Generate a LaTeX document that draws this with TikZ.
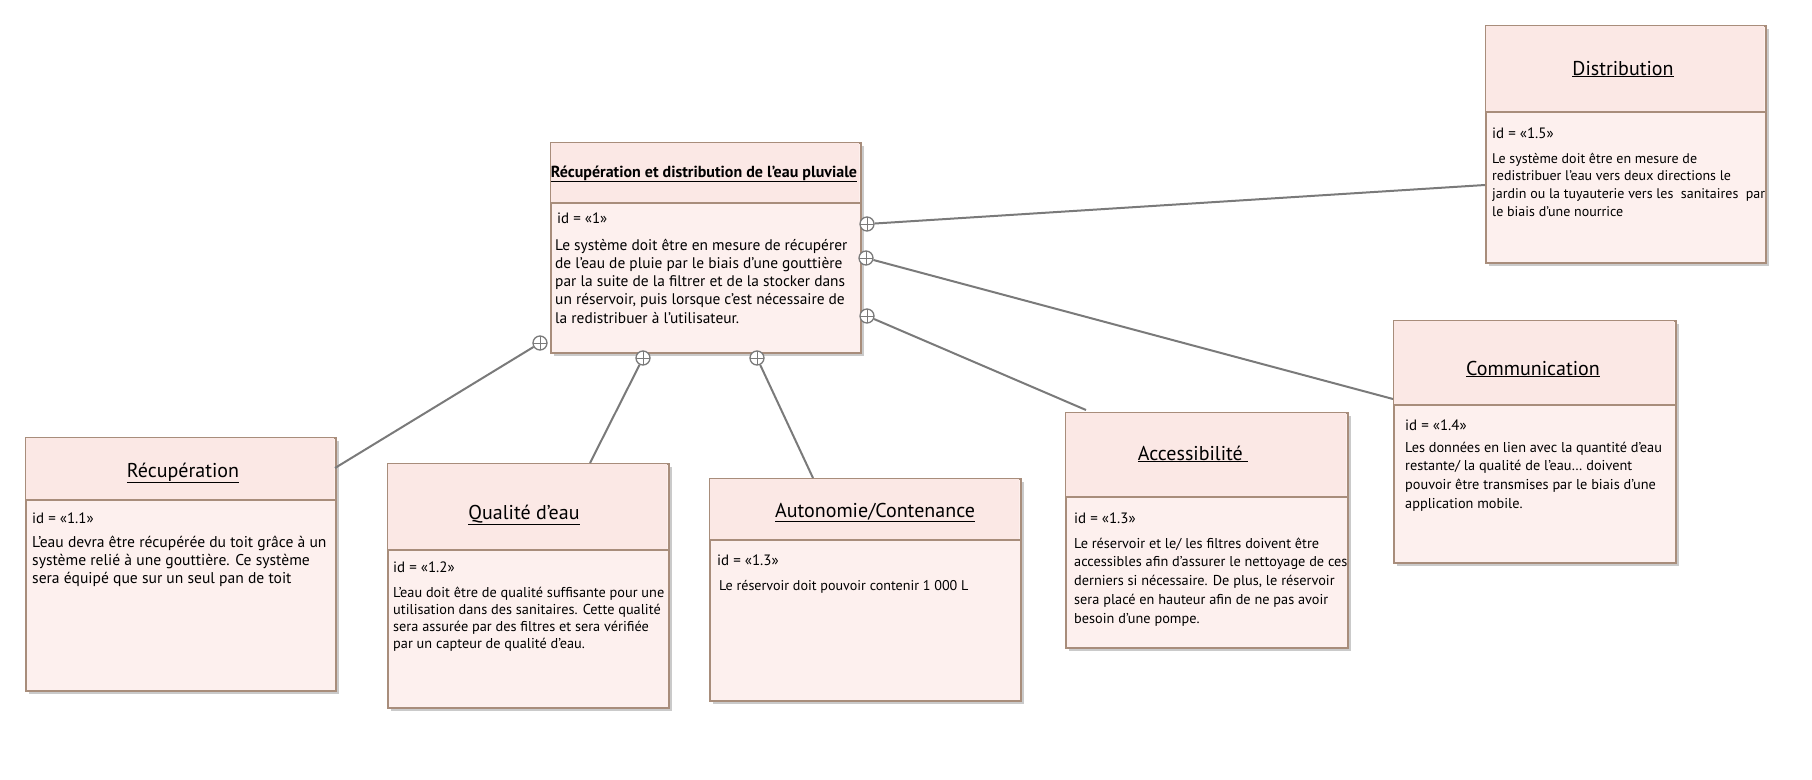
\documentclass[tikz,border=0pt]{standalone}
\usepackage{fontspec}
\setmainfont{PT Sans}
\usetikzlibrary{shadows}
\definecolor{boxfill}{HTML}{FDF0EE}
\definecolor{headfill}{HTML}{FBE8E5}
\definecolor{boxline}{HTML}{A88D7B}
\definecolor{conn}{HTML}{7A7A7A}
\newcommand\btext[1]{\parbox[t]{420pt}{\raggedright #1}}
\tikzset{
  ubox/.style={draw=boxline, line width=2.4pt, fill=boxfill, inner sep=0pt, anchor=north west,
     drop shadow={shadow xshift=3pt, shadow yshift=-3pt, fill=black!35, opacity=0.6}},
  udiv/.style={draw=boxline, line width=2.4pt},
  ttl/.style={anchor=base, inner sep=0pt, font=\fontsize{20}{24}\selectfont},
  mttl/.style={anchor=base, inner sep=0pt, font=\bfseries\fontsize{16}{19}\selectfont},
  idt/.style={anchor=base west, inner sep=0pt, font=\fontsize{15}{18}\selectfont},
  bdy/.style={anchor=base west, inner sep=0pt},
  plus/.style={circle, draw=conn, line width=1.3pt, fill=white, minimum size=14pt, inner sep=0pt,
     path picture={\draw[conn, line width=1pt] (path picture bounding box.north) -- (path picture bounding box.south)
                    (path picture bounding box.west) -- (path picture bounding box.east);}},
  cline/.style={draw=conn, line width=2pt}
}
\begin{document}
\begin{tikzpicture}[x=1pt,y=-1pt]
\useasboundingbox (0,0) rectangle (1812,779);
% boxes
\node[ubox, minimum width=310pt, minimum height=210pt] (main) at (550,142) {};
\node[ubox, minimum width=280pt, minimum height=237pt] (dist) at (1485,25) {};
\node[ubox, minimum width=310pt, minimum height=253pt] (recup) at (25,437) {};
\node[ubox, minimum width=281pt, minimum height=244pt] (qual) at (387,463) {};
\node[ubox, minimum width=311pt, minimum height=222pt] (auto) at (709,478) {};
\node[ubox, minimum width=282pt, minimum height=235pt] (acc) at (1065,412) {};
\node[ubox, minimum width=282pt, minimum height=242pt] (comm) at (1393,320) {};
% headers
\fill[headfill] ([shift={(1.2pt,-1.2pt)}]main.north west) rectangle (858.8,203);
\fill[headfill] ([shift={(1.2pt,-1.2pt)}]dist.north west) rectangle (1763.8,112);
\fill[headfill] ([shift={(1.2pt,-1.2pt)}]recup.north west) rectangle (333.8,500);
\fill[headfill] ([shift={(1.2pt,-1.2pt)}]qual.north west) rectangle (666.8,550);
\fill[headfill] ([shift={(1.2pt,-1.2pt)}]auto.north west) rectangle (1018.8,540);
\fill[headfill] ([shift={(1.2pt,-1.2pt)}]acc.north west) rectangle (1345.8,497);
\fill[headfill] ([shift={(1.2pt,-1.2pt)}]comm.north west) rectangle (1673.8,405);
\draw[udiv] (main.west |- 0,203) -- (main.east |- 0,203);
\draw[udiv] (dist.west |- 0,112) -- (dist.east |- 0,112);
\draw[udiv] (recup.west |- 0,500) -- (recup.east |- 0,500);
\draw[udiv] (qual.west |- 0,550) -- (qual.east |- 0,550);
\draw[udiv] (auto.west |- 0,540) -- (auto.east |- 0,540);
\draw[udiv] (acc.west |- 0,497) -- (acc.east |- 0,497);
\draw[udiv] (comm.west |- 0,405) -- (comm.east |- 0,405);
% titles
\node[mttl] (mainT) at (704,177) {\underline{Récupération et distribution de l’eau pluviale}};
\node[ttl] (distT) at (1623,75) {\underline{Distribution}};
\node[ttl] (recupT) at (183,477) {\underline{Récupération}};
\node[ttl] (qualT) at (524,519) {\underline{Qualité d’eau}};
\node[ttl] (autoT) at (875,517) {\underline{Autonomie/Contenance}};
\node[ttl] (accT) at (1193,460) {\underline{Accessibilité\ }};
\node[ttl] (commT) at (1533,375) {\underline{Communication}};
% ids
\node[idt] (mainI) at (557,223) {id = «1»};
\node[idt] (distI) at (1492,138) {id = «1.5»};
\node[idt] (recupI) at (32,523) {id = «1.1»};
\node[idt] (qualI) at (393,572) {id = «1.2»};
\node[idt] (autoI) at (717,565) {id = «1.3»};
\node[idt] (accI) at (1074,523) {id = «1.3»};
\node[idt] (commI) at (1405,430) {id = «1.4»};
% bodies
\node[bdy, font=\fontsize{15.4}{18.3}\selectfont] (mainB) at (555,250) {\btext{Le système doit être en mesure de récupérer\\ de l’eau de pluie par le biais d’une gouttière\\ par la suite de la filtrer et de la stocker dans\\ un réservoir, puis lorsque c’est nécessaire de\\ la redistribuer à l’utilisateur.}};
\node[bdy, font=\fontsize{14}{17.7}\selectfont] (distB) at (1492,163) {\btext{Le système doit être en mesure de\\ redistribuer l’eau vers deux directions le\\ jardin ou la tuyauterie vers les\ \ sanitaires\ \ par\\ le biais d’une nourrice}};
\node[bdy, font=\fontsize{15.6}{18}\selectfont] (recupB) at (32,547) {\btext{L’eau devra être récupérée du toit grâce à un\\ système relié à une gouttière. Ce système\\ sera équipé que sur un seul pan de toit}};
\node[bdy, font=\fontsize{14.3}{17}\selectfont] (qualB) at (393,597) {\btext{L’eau doit être de qualité suffisante pour une\\ utilisation dans des sanitaires. Cette qualité\\ sera assurée par des filtres et sera vérifiée\\ par un capteur de qualité d’eau.}};
\node[bdy, font=\fontsize{14.1}{17}\selectfont] (autoB) at (719,590) {\btext{Le réservoir doit pouvoir contenir 1 000 L}};
\node[bdy, font=\fontsize{14.3}{18.75}\selectfont] (accB) at (1074,548) {\btext{Le réservoir et le/ les filtres doivent être\\ accessibles afin d’assurer le nettoyage de ces\\ derniers si nécessaire. De plus, le réservoir\\ sera placé en hauteur afin de ne pas avoir\\ besoin d’une pompe.}};
\node[bdy, font=\fontsize{14.3}{18.7}\selectfont] (commB) at (1405,452) {\btext{Les données en lien avec la quantité d’eau\\ restante/ la qualité de l’eau… doivent\\ pouvoir être transmises par le biais d’une\\ application mobile.}};
% connector ends
\coordinate (eDist) at (1485,185);
\coordinate (eComm) at (1393,399);
\coordinate (eAcc) at (1086,410);
\coordinate (eQual) at (590,463);
\coordinate (eAuto) at (813,478);
\coordinate (eRecup) at (335,468);
% containment circles
\node[plus] (pDist) at (867,224) {};
\node[plus] (pComm) at (866,258) {};
\node[plus] (pAcc) at (867,316) {};
\node[plus] (pQual) at (643,358) {};
\node[plus] (pAuto) at (757,358) {};
\node[plus] (pRecup) at (540,343) {};
\draw[cline] (pDist) -- (eDist);
\draw[cline] (pComm) -- (eComm);
\draw[cline] (pAcc) -- (eAcc);
\draw[cline] (pQual) -- (eQual);
\draw[cline] (pAuto) -- (eAuto);
\draw[cline] (pRecup) -- (eRecup);
\end{tikzpicture}
\end{document}
